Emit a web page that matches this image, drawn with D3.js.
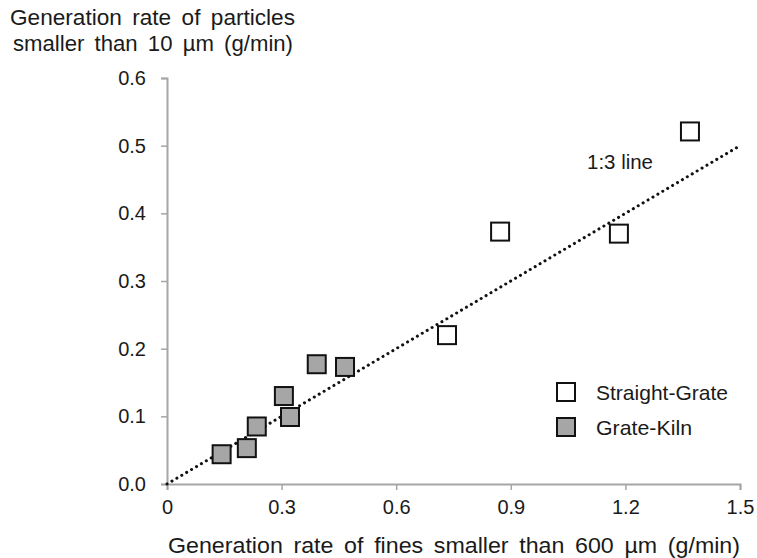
<!DOCTYPE html>
<html>
<head>
<meta charset="utf-8"/>
<title>Fines vs particles</title>
<script src="https://cdn.jsdelivr.net/npm/d3@7"></script>
<style>
  body { margin: 0; background: #fff; }
  text { font-family: "Liberation Sans", Arial, sans-serif; fill: #1a1a1a; }
</style>
</head>
<body>
<div id="chart"></div>
<script>
// data
var straightX = [0.733, 0.872, 1.183, 1.369];
var straightY = [0.220, 0.373, 0.370, 0.521];
var kilnX = [0.143, 0.209, 0.235, 0.306, 0.322, 0.392, 0.466];
var kilnY = [0.044, 0.053, 0.085, 0.130, 0.099, 0.177, 0.173];
var xTicks = [0, 0.3, 0.6, 0.9, 1.2, 1.5];
var yTicks = [0, 0.1, 0.2, 0.3, 0.4, 0.5, 0.6];
var ratioLine = [[0, 0], [1.5, 0.5]];

var W = 757, H = 558;
var plotL = 167, plotR = 740, plotT = 78, plotB = 484;

var svg = d3.select("#chart").append("svg")
    .attr("width", W)
    .attr("height", H);

var x = d3.scaleLinear().domain([0, 1.5]).range([plotL, plotR]);
var y = d3.scaleLinear().domain([0, 0.6]).range([plotB, plotT]);

// axes
var xAxis = svg.append("g")
    .attr("transform", "translate(0," + plotB + ")")
    .call(d3.axisBottom(x).tickValues(xTicks).tickSize(6).tickPadding(10)
        .tickFormat(function(d) { return d === 0 ? "0" : d3.format(".1f")(d); }));
var yAxis = svg.append("g")
    .attr("transform", "translate(" + plotL + ",0)")
    .call(d3.axisLeft(y).tickValues(yTicks).tickSize(6).tickPadding(15)
        .tickFormat(d3.format(".1f")));

[xAxis, yAxis].forEach(function(a) {
  a.select(".domain").attr("stroke", "#a6a6a6").attr("stroke-width", 2);
  a.selectAll(".tick line").attr("stroke", "#a6a6a6").attr("stroke-width", 1.5);
  a.selectAll(".tick text")
    .style("font-family", "'Liberation Sans', Arial, sans-serif")
    .style("font-size", "20px")
    .attr("fill", "#1a1a1a");
});

// 1:3 line
svg.append("path")
    .datum(ratioLine)
    .attr("d", d3.line().x(function(d) { return x(d[0]); }).y(function(d) { return y(d[1]); }))
    .attr("fill", "none")
    .attr("stroke", "#111")
    .attr("stroke-width", 3)
    .attr("stroke-linecap", "round")
    .attr("stroke-dasharray", "0.1 5.6");

svg.append("text")
    .attr("x", 587).attr("y", 169)
    .attr("textLength", 66).attr("lengthAdjust", "spacingAndGlyphs")
    .style("font-size", "20px")
    .text("1:3 line");

// markers
var sz = 18;
function squares(xs, ys, fill) {
  svg.append("g").selectAll("rect")
    .data(xs)
    .enter().append("rect")
    .attr("x", function(d) { return x(d) - sz / 2; })
    .attr("y", function(d, i) { return y(ys[i]) - sz / 2; })
    .attr("width", sz).attr("height", sz)
    .attr("fill", fill)
    .attr("stroke", "#111")
    .attr("stroke-width", 2);
}
squares(kilnX, kilnY, "#a6a6a6");
squares(straightX, straightY, "#fff");

// legend
var legend = [["Straight-Grate", "#fff", 132], ["Grate-Kiln", "#a6a6a6", 96]];
legend.forEach(function(l, i) {
  var ly = 392 + i * 35;
  svg.append("rect")
    .attr("x", 557).attr("y", ly - 9)
    .attr("width", 18).attr("height", 18)
    .attr("fill", l[1]).attr("stroke", "#111").attr("stroke-width", 2);
  svg.append("text")
    .attr("x", 596).attr("y", ly + 8)
    .attr("textLength", l[2]).attr("lengthAdjust", "spacingAndGlyphs")
    .style("font-size", "21px")
    .text(l[0]);
});

// titles
function title(tx, ty, len, s) {
  svg.append("text")
      .attr("x", tx).attr("y", ty)
      .attr("textLength", len).attr("lengthAdjust", "spacingAndGlyphs")
      .style("font-size", "22px")
      .style("word-spacing", "4px")
      .text(s);
}
title(10, 25, 285, "Generation rate of particles");
title(13, 51, 280, "smaller than 10 µm (g/min)");
title(168, 553, 572, "Generation rate of fines smaller than 600 µm (g/min)");
</script>
</body>
</html>
